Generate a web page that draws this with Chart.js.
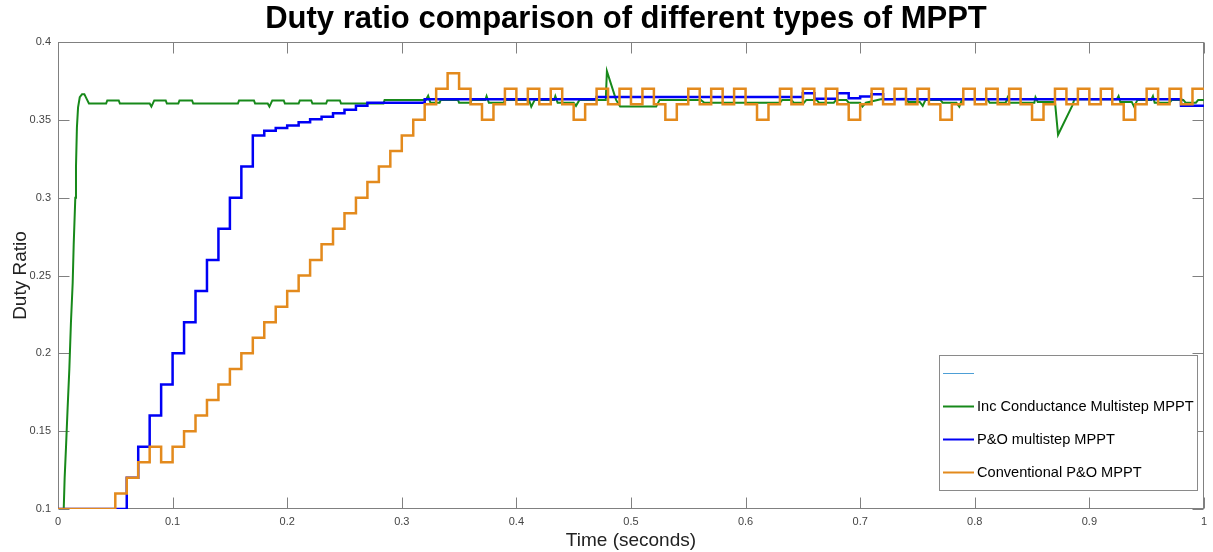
<!DOCTYPE html>
<html>
<head>
<meta charset="utf-8">
<script src="https://cdn.jsdelivr.net/npm/chart.js@4.4.1/dist/chart.umd.min.js"></script>
<style>
  html, body { margin: 0; padding: 0; background: #ffffff; }
  #c { display: block; }
</style>
</head>
<body>
<canvas id="c" width="1213" height="552" style="width:1213px;height:552px"></canvas>
<script>
// ---------------- DATA ----------------
const chartTitle = 'Duty ratio comparison of different types of MPPT';
const xAxisTitle = 'Time (seconds)';
const yAxisTitle = 'Duty Ratio';

const xTickValues = [0, 0.1, 0.2, 0.3, 0.4, 0.5, 0.6, 0.7, 0.8, 0.9, 1];
const xTickLabels = ['0', '0.1', '0.2', '0.3', '0.4', '0.5', '0.6', '0.7', '0.8', '0.9', '1'];
const yTickValues = [0.1, 0.15, 0.2, 0.25, 0.3, 0.35, 0.4];
const yTickLabels = ['0.1', '0.15', '0.2', '0.25', '0.3', '0.35', '0.4'];

const seriesNames = ['', 'Inc Conductance Multistep MPPT', 'P&O multistep MPPT', 'Conventional P&O MPPT'];

// sampling instants of the two step-wise controllers (value holds until next instant)
const stepTimes = [
  0.00, 0.01, 0.02, 0.03, 0.04, 0.05, 0.06, 0.07, 0.08, 0.09,
  0.10, 0.11, 0.12, 0.13, 0.14, 0.15, 0.16, 0.17, 0.18, 0.19,
  0.20, 0.21, 0.22, 0.23, 0.24, 0.25, 0.26, 0.27, 0.28, 0.29,
  0.30, 0.31, 0.32, 0.33, 0.34, 0.35, 0.36, 0.37, 0.38, 0.39,
  0.40, 0.41, 0.42, 0.43, 0.44, 0.45, 0.46, 0.47, 0.48, 0.49,
  0.50, 0.51, 0.52, 0.53, 0.54, 0.55, 0.56, 0.57, 0.58, 0.59,
  0.60, 0.61, 0.62, 0.63, 0.64, 0.65, 0.66, 0.67, 0.68, 0.69,
  0.70, 0.71, 0.72, 0.73, 0.74, 0.75, 0.76, 0.77, 0.78, 0.79,
  0.80, 0.81, 0.82, 0.83, 0.84, 0.85, 0.86, 0.87, 0.88, 0.89,
  0.90, 0.91, 0.92, 0.93, 0.94, 0.95, 0.96, 0.97, 0.98, 0.99,
  1.00
];

const poMultistepDuty = [
  0.10, 0.10, 0.10, 0.10, 0.10, 0.10, 0.12, 0.14, 0.16, 0.18,
  0.20, 0.22, 0.24, 0.26, 0.28, 0.30, 0.32, 0.34, 0.343, 0.3447,
  0.3464, 0.3485, 0.3504, 0.352, 0.3543, 0.3564, 0.359, 0.361, 0.361, 0.361,
  0.361, 0.361, 0.3632, 0.3632, 0.3632, 0.3632, 0.3632, 0.3632, 0.3632, 0.3632,
  0.3632, 0.3632, 0.3632, 0.3632, 0.3632, 0.3632, 0.3632, 0.3646, 0.3646, 0.3646,
  0.3646, 0.3646, 0.3646, 0.3646, 0.3646, 0.3646, 0.3646, 0.3646, 0.3646, 0.3646,
  0.3646, 0.3646, 0.3646, 0.3646, 0.3646, 0.367, 0.3635, 0.3635, 0.367, 0.3638,
  0.365, 0.3665, 0.3632, 0.3632, 0.3632, 0.3632, 0.3632, 0.3632, 0.3632, 0.3632,
  0.3632, 0.3632, 0.3632, 0.3632, 0.3632, 0.3632, 0.3632, 0.3632, 0.3632, 0.3632,
  0.3632, 0.3632, 0.3632, 0.3632, 0.3632, 0.3632, 0.3632, 0.3632, 0.359, 0.359,
  0.359
];

const conventionalPoDuty = [
  0.10, 0.10, 0.10, 0.10, 0.10, 0.11, 0.12, 0.13, 0.14, 0.13,
  0.14, 0.15, 0.16, 0.17, 0.18, 0.19, 0.20, 0.21, 0.22, 0.23,
  0.24, 0.25, 0.26, 0.27, 0.28, 0.29, 0.30, 0.31, 0.32, 0.33,
  0.34, 0.35, 0.36, 0.37, 0.38, 0.37, 0.36, 0.35, 0.36, 0.37,
  0.36, 0.37, 0.36, 0.37, 0.36, 0.35, 0.36, 0.37, 0.36, 0.37,
  0.36, 0.37, 0.36, 0.35, 0.36, 0.37, 0.36, 0.37, 0.36, 0.37,
  0.36, 0.35, 0.36, 0.37, 0.36, 0.37, 0.36, 0.37, 0.36, 0.35,
  0.36, 0.37, 0.36, 0.37, 0.36, 0.37, 0.36, 0.35, 0.36, 0.37,
  0.36, 0.37, 0.36, 0.37, 0.36, 0.35, 0.36, 0.37, 0.36, 0.37,
  0.36, 0.37, 0.36, 0.35, 0.36, 0.37, 0.36, 0.37, 0.36, 0.37,
  0.37
];

// Incremental conductance: continuous trace, read at its corners
const incCondTime = [
  0, 0.005, 0.0058, 0.007, 0.0084, 0.0099, 0.0113, 0.0128, 0.0137, 0.0151,
  0.0157, 0.0165, 0.0175, 0.019, 0.021, 0.023, 0.025, 0.027, 0.042, 0.043,
  0.053, 0.054, 0.080, 0.0815, 0.084, 0.094, 0.095, 0.105, 0.106, 0.117,
  0.118, 0.157, 0.158, 0.171, 0.172, 0.183, 0.1845, 0.187, 0.197, 0.198,
  0.210, 0.211, 0.221, 0.222, 0.234, 0.235, 0.246, 0.247, 0.284, 0.285,
  0.321, 0.323, 0.325, 0.333, 0.334, 0.349, 0.350, 0.360, 0.361, 0.373,
  0.374, 0.376, 0.389, 0.390, 0.411, 0.413, 0.416, 0.433, 0.434, 0.436,
  0.450, 0.452, 0.455, 0.478, 0.479, 0.487, 0.4906, 0.522, 0.525, 0.561,
  0.564, 0.630, 0.632, 0.640, 0.642, 0.651, 0.653, 0.662, 0.664, 0.677,
  0.679, 0.688, 0.690, 0.700, 0.702, 0.705, 0.718, 0.740, 0.742, 0.752,
  0.7546, 0.757, 0.770, 0.772, 0.784, 0.7865, 0.789, 0.811, 0.813, 0.827,
  0.8286, 0.830, 0.852, 0.853, 0.855, 0.870, 0.8727, 0.885, 0.887, 0.924,
  0.9255, 0.927, 0.937, 0.939, 0.942, 0.954, 0.9555, 0.957, 0.970, 0.972,
  0.982, 0.984, 0.993, 0.995, 1.0
];
const incCondDuty = [
  0.100, 0.100, 0.120, 0.140, 0.165, 0.190, 0.220, 0.245, 0.270, 0.300,
  0.320, 0.345, 0.358, 0.3645, 0.3665, 0.3665, 0.3635, 0.3605, 0.3605, 0.3625,
  0.3625, 0.3605, 0.3605, 0.3585, 0.3625, 0.3625, 0.3605, 0.3605, 0.3625, 0.3625,
  0.3605, 0.3605, 0.3625, 0.3625, 0.3605, 0.3605, 0.3585, 0.3625, 0.3625, 0.3605,
  0.3605, 0.3625, 0.3625, 0.3605, 0.3605, 0.3625, 0.3625, 0.3605, 0.3605, 0.3628,
  0.3628, 0.3655, 0.361, 0.361, 0.3628, 0.3628, 0.361, 0.361, 0.3628, 0.3628,
  0.3652, 0.361, 0.361, 0.3628, 0.3628, 0.3585, 0.3628, 0.3628, 0.3652, 0.361,
  0.361, 0.359, 0.3628, 0.3628, 0.3812, 0.3628, 0.3585, 0.3585, 0.3628, 0.3628,
  0.361, 0.361, 0.3628, 0.3628, 0.361, 0.361, 0.3628, 0.3628, 0.361, 0.361,
  0.3628, 0.3628, 0.361, 0.361, 0.3585, 0.361, 0.3632, 0.3635, 0.3615, 0.3615,
  0.359, 0.3628, 0.3628, 0.361, 0.361, 0.3585, 0.3632, 0.3632, 0.361, 0.361,
  0.3642, 0.361, 0.361, 0.3645, 0.3615, 0.3615, 0.3404, 0.359, 0.3632, 0.3632,
  0.3652, 0.3615, 0.3615, 0.3585, 0.3628, 0.3628, 0.3652, 0.361, 0.361, 0.3628,
  0.3628, 0.361, 0.361, 0.3628, 0.3628
];

// ---------------- CHART ----------------
const pts = (xs, ys) => xs.map((t, i) => ({ x: t, y: ys[i] }));

const W = 1213, H = 552;
const PLOT = { left: 58, top: 42, right: 1207, bottom: 509 };

const mplFrame = {
  id: 'mplFrame',
  beforeDatasetsDraw(chart) {
    const { ctx, chartArea: a, scales } = chart;
    ctx.save();
    ctx.strokeStyle = '#808080';
    ctx.lineWidth = 1;
    const L = Math.round(a.left) + 0.5, R = Math.round(a.right) - 0.5;
    const T = Math.round(a.top) + 0.5, B = Math.round(a.bottom) - 0.5;
    ctx.strokeRect(L, T, R - L, B - T);
    const tl = 11;
    ctx.beginPath();
    xTickValues.forEach(v => {
      const px = Math.round(scales.x.getPixelForValue(v)) + 0.5;
      ctx.moveTo(px, B); ctx.lineTo(px, B - tl);
      ctx.moveTo(px, T); ctx.lineTo(px, T + tl);
    });
    yTickValues.forEach(v => {
      const py = Math.round(scales.y.getPixelForValue(v)) + 0.5;
      ctx.moveTo(L, py); ctx.lineTo(L + tl, py);
      ctx.moveTo(R, py); ctx.lineTo(R - tl, py);
    });
    ctx.stroke();
    ctx.restore();
  },
  afterDraw(chart) {
    const { ctx, chartArea: a } = chart;
    ctx.save();
    // title
    ctx.fillStyle = '#000000';
    ctx.font = 'bold 31px "Liberation Sans", Arial, sans-serif';
    ctx.textAlign = 'center';
    ctx.textBaseline = 'middle';
    ctx.fillText(chartTitle, (a.left + a.right) / 2 - 5, 19);

    // legend box
    const bx = 939.5, by = 355.5, bw = 258, bh = 135;
    ctx.fillStyle = '#ffffff';
    ctx.fillRect(bx, by, bw, bh);
    ctx.strokeStyle = '#8a8a8a';
    ctx.lineWidth = 1;
    ctx.strokeRect(bx, by, bw, bh);
    ctx.font = '14.6px "Liberation Sans", Arial, sans-serif';
    ctx.textAlign = 'left';
    ctx.textBaseline = 'middle';
    const rowsY = [373, 406, 439, 472];
    chart.data.datasets.forEach((ds, i) => {
      const y = rowsY[i];
      ctx.strokeStyle = ds.borderColor;
      ctx.lineWidth = i === 0 ? 1 : 2;
      ctx.beginPath();
      ctx.moveTo(943, y + 0.5);
      ctx.lineTo(974, y + 0.5);
      ctx.stroke();
      ctx.fillStyle = '#000000';
      ctx.fillText(ds.label, 977, y + 1);
    });
    ctx.restore();
  }
};

new Chart(document.getElementById('c'), {
  type: 'line',
  data: {
    datasets: [
      { label: seriesNames[0], data: [], borderColor: '#4d9fd6', borderWidth: 1, order: 3 },
      { label: seriesNames[1], data: pts(incCondTime, incCondDuty), borderColor: '#17891a', borderWidth: 2, order: 2 },
      { label: seriesNames[2], data: pts(stepTimes, poMultistepDuty), borderColor: '#0000f5', borderWidth: 2.5, stepped: 'before', order: 1 },
      { label: seriesNames[3], data: pts(stepTimes, conventionalPoDuty), borderColor: '#e38a1d', borderWidth: 2.5, stepped: 'before', order: 0 }
    ]
  },
  options: {
    responsive: false,
    animation: false,
    devicePixelRatio: 1,
    layout: { padding: { top: PLOT.top, right: W - PLOT.right, left: 0, bottom: 0 } },
    elements: { point: { radius: 0, hoverRadius: 0 }, line: { tension: 0, fill: false } },
    plugins: { legend: { display: false }, title: { display: false }, tooltip: { enabled: false } },
    events: [],
    scales: {
      x: {
        type: 'linear', min: 0, max: 1,
        afterBuildTicks: s => { s.ticks = xTickValues.map(v => ({ value: v })); },
        afterFit: s => { s.height = H - PLOT.bottom; },
        ticks: {
          callback: (v) => xTickLabels[xTickValues.indexOf(v)] ?? '',
          color: '#444444', font: { family: '"Liberation Sans", Arial, sans-serif', size: 11 },
          padding: 6, maxRotation: 0, autoSkip: false
        },
        grid: { display: false, drawTicks: false },
        border: { display: false },
        title: { display: true, text: xAxisTitle, color: '#222222',
                 font: { family: '"Liberation Sans", Arial, sans-serif', size: 19 }, padding: { top: 0, bottom: 0 } }
      },
      y: {
        type: 'linear', min: 0.1, max: 0.4,
        afterBuildTicks: s => { s.ticks = yTickValues.map(v => ({ value: v })); },
        afterFit: s => { s.width = PLOT.left; },
        ticks: {
          callback: (v) => yTickLabels[yTickValues.indexOf(v)] ?? '',
          color: '#444444', font: { family: '"Liberation Sans", Arial, sans-serif', size: 11 },
          padding: 7, autoSkip: false
        },
        grid: { display: false, drawTicks: false },
        border: { display: false },
        title: { display: true, text: yAxisTitle, color: '#222222',
                 font: { family: '"Liberation Sans", Arial, sans-serif', size: 19 }, padding: { top: 9, bottom: 0 } }
      }
    }
  },
  plugins: [mplFrame]
});
</script>
</body>
</html>
